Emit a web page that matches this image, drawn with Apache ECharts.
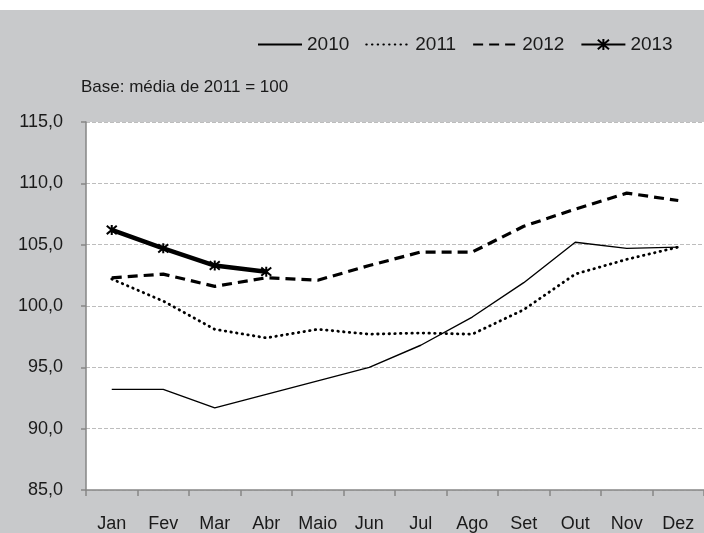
<!DOCTYPE html>
<html>
<head>
<meta charset="utf-8">
<script src="https://cdn.jsdelivr.net/npm/echarts@6/dist/echarts.min.js"></script>
<style>
html,body{margin:0;padding:0;background:#fff;}
#chart{width:704px;height:533px;}
</style>
</head>
<body>
<div id="chart"></div>
<script>
var months = ['Jan','Fev','Mar','Abr','Maio','Jun','Jul','Ago','Set','Out','Nov','Dez'];
var s2010 = [93.2, 93.2, 91.7, 92.8, 93.9, 95.0, 96.8, 99.1, 101.9, 105.2, 104.7, 104.8];
var s2011 = [102.2, 100.4, 98.1, 97.4, 98.1, 97.7, 97.8, 97.7, 99.7, 102.6, 103.8, 104.8];
var s2012 = [102.3, 102.6, 101.6, 102.3, 102.1, 103.3, 104.4, 104.4, 106.5, 107.9, 109.2, 108.6];
var s2013 = [106.2, 104.7, 103.3, 102.8];
var seriesNames = ['2010', '2011', '2012', '2013'];
var subtitle = 'Base: média de 2011 = 100';
var yMin = 85, yMax = 115, yStep = 5;

var chart = echarts.init(document.getElementById('chart'), null, {renderer: 'canvas'});
var FONT = '"Liberation Sans", Arial, sans-serif';
var star = 'path://M0,0L10,10M10,0L0,10M5,-1L5,11';

chart.setOption({
  backgroundColor: '#c8c9cb',
  animation: false,
  graphic: [{
    type: 'rect', left: 0, top: 0, z: 100,
    shape: {width: 704, height: 10},
    style: {fill: '#ffffff'}
  }],
  title: {
    text: subtitle,
    left: 81, top: 79, padding: 0,
    textStyle: {fontFamily: FONT, fontSize: 17, fontWeight: 'normal', color: '#1a1a1a'}
  },
  legend: {
    left: 257, top: 35, padding: 0,
    itemWidth: 44, itemHeight: 14, itemGap: 16,
    textStyle: {fontFamily: FONT, fontSize: 19, color: '#1a1a1a'},
    data: [
      {name: seriesNames[0], itemStyle: {opacity: 0}},
      {name: seriesNames[1], itemStyle: {opacity: 0}},
      {name: seriesNames[2], itemStyle: {opacity: 0}},
      {name: seriesNames[3]}
    ]
  },
  grid: {
    left: 86, right: -6, top: 122, bottom: 41,
    show: true, backgroundColor: '#ffffff', borderWidth: 0
  },
  xAxis: {
    type: 'category', data: months, boundaryGap: true,
    axisLine: {lineStyle: {color: '#868686', width: 1.5}},
    axisTick: {show: true, length: 6, lineStyle: {color: '#868686', width: 1.5}},
    axisLabel: {margin: 25, fontFamily: FONT, fontSize: 18, color: '#1a1a1a', interval: 0}
  },
  yAxis: {
    type: 'value', min: yMin, max: yMax, interval: yStep,
    axisLine: {show: true, lineStyle: {color: '#868686', width: 1.5}},
    axisTick: {show: true, length: 5, lineStyle: {color: '#868686', width: 1.5}},
    axisLabel: {margin: 23, fontFamily: FONT, fontSize: 18, color: '#1a1a1a',
      formatter: function(v){ return v.toFixed(1).replace('.', ','); }},
    splitLine: {show: true, lineStyle: {color: '#bdbdbd', type: [4, 2], width: 1}}
  },
  series: [
    {name: seriesNames[0], type: 'line', data: s2010, symbol: 'none',
     lineStyle: {color: '#000', width: 1.4}, itemStyle: {color: '#000'}},
    {name: seriesNames[1], type: 'line', data: s2011, symbol: 'none',
     lineStyle: {color: '#000', width: 2.8, type: [0.5, 5.2], cap: 'round'}, itemStyle: {color: '#000'}},
    {name: seriesNames[2], type: 'line', data: s2012, symbol: 'none',
     lineStyle: {color: '#000', width: 3.2, type: [10, 6]}, itemStyle: {color: '#000'}},
    {name: seriesNames[3], type: 'line', data: s2013, symbol: star, symbolSize: 10,
     showSymbol: true,
     lineStyle: {color: '#000', width: 4.5},
     itemStyle: {color: '#000', borderColor: '#000', borderWidth: 2}}
  ]
});
</script>
</body>
</html>
